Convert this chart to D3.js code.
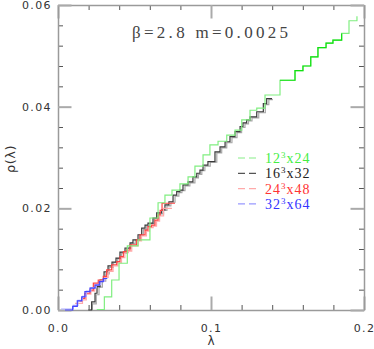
<!DOCTYPE html>
<html>
<head>
<meta charset="utf-8">
<script src="https://cdn.jsdelivr.net/npm/d3@7"></script>
<style>
  body { margin: 0; background: #fff; }
  svg { display: block; }
</style>
</head>
<body>
<svg id="chart" width="374" height="349"></svg>
<script>
// step data: [lambda, rho] where each step starts
const lat12light = [[0.0253,0.0001],[0.0303,0.0026],[0.0351,0.0059],[0.0399,0.0092],[0.0453,0.0126],[0.0523,0.0138],[0.0601,0.0181],[0.0654,0.0211],[0.0699,0.0226],[0.0745,0.0236],[0.0797,0.0248],[0.0850,0.0262],[0.0895,0.0283],[0.0948,0.0305],[0.0993,0.0325],[0.1046,0.0332],[0.1103,0.0344],[0.1157,0.0354],[0.1201,0.0374],[0.1255,0.0393],[0.1299,0.0397],[0.1353,0.0423],[0.1451,0.0452],[0.1549,0.0471],[0.1601,0.0480],[0.1652,0.0498],[0.1699,0.0516],[0.1752,0.0525],[0.1797,0.0531],[0.1854,0.0544],[0.1902,0.0569],[0.1954,0.0578]];
const lat12dark = [[0.1451,0.0452],[0.1549,0.0471],[0.1601,0.0480],[0.1652,0.0498],[0.1699,0.0516],[0.1752,0.0525],[0.1797,0.0531],[0.1854,0.0544]];
const lat16dark = [[0.0198,0.0000],[0.0220,0.0016],[0.0242,0.0033],[0.0255,0.0046],[0.0275,0.0059],[0.0301,0.0075],[0.0327,0.0087],[0.0353,0.0094],[0.0379,0.0102],[0.0405,0.0114],[0.0438,0.0122],[0.0471,0.0132],[0.0490,0.0138],[0.0523,0.0148],[0.0547,0.0161],[0.0569,0.0167],[0.0588,0.0171],[0.0621,0.0181],[0.0645,0.0191],[0.0678,0.0197],[0.0699,0.0207],[0.0725,0.0213],[0.0752,0.0226],[0.0776,0.0233],[0.0797,0.0236],[0.0817,0.0246],[0.0850,0.0252],[0.0882,0.0262],[0.0907,0.0269],[0.0928,0.0275],[0.0948,0.0285],[0.0980,0.0292],[0.1026,0.0311],[0.1059,0.0321],[0.1092,0.0331],[0.1124,0.0341],[0.1157,0.0351],[0.1190,0.0361],[0.1209,0.0368],[0.1233,0.0374],[0.1255,0.0380],[0.1299,0.0390],[0.1342,0.0406],[0.1364,0.0416],[0.1399,0.0416]];
const lat16light = [[0.0198,0.0000],[0.0225,0.0012],[0.0250,0.0030],[0.0268,0.0045],[0.0290,0.0057],[0.0312,0.0071],[0.0335,0.0084],[0.0362,0.0093],[0.0390,0.0101],[0.0415,0.0112],[0.0448,0.0121],[0.0480,0.0131],[0.0505,0.0137],[0.0535,0.0147],[0.0558,0.0158],[0.0580,0.0165],[0.0600,0.0170],[0.0630,0.0180],[0.0655,0.0189],[0.0690,0.0196],[0.0712,0.0205],[0.0738,0.0212],[0.0765,0.0224],[0.0790,0.0231],[0.0810,0.0235],[0.0830,0.0244],[0.0862,0.0250],[0.0895,0.0260],[0.0918,0.0267],[0.0940,0.0274],[0.0960,0.0283],[0.0995,0.0291],[0.1038,0.0309],[0.1070,0.0319],[0.1103,0.0329],[0.1137,0.0339],[0.1170,0.0349],[0.1200,0.0359],[0.1222,0.0366],[0.1245,0.0372],[0.1268,0.0378],[0.1312,0.0388],[0.1355,0.0404],[0.1378,0.0414],[0.1405,0.0414]];
const lat24dark = [[0.0140,0.0018],[0.0155,0.0023],[0.0176,0.0033],[0.0209,0.0039],[0.0231,0.0053],[0.0263,0.0059],[0.0296,0.0066],[0.0318,0.0079],[0.0351,0.0089],[0.0384,0.0095],[0.0405,0.0105],[0.0427,0.0115],[0.0449,0.0118],[0.0471,0.0128],[0.0514,0.0138],[0.0536,0.0148],[0.0569,0.0157],[0.0588,0.0164],[0.0612,0.0167],[0.0634,0.0177],[0.0654,0.0187],[0.0668,0.0196],[0.0680,0.0210],[0.0765,0.0210]];
const lat24light = [[0.0111,0.0013],[0.0160,0.0020],[0.0185,0.0031],[0.0215,0.0037],[0.0240,0.0050],[0.0272,0.0057],[0.0305,0.0064],[0.0328,0.0076],[0.0360,0.0087],[0.0392,0.0093],[0.0415,0.0103],[0.0437,0.0113],[0.0460,0.0116],[0.0482,0.0126],[0.0524,0.0136],[0.0546,0.0146],[0.0578,0.0155],[0.0598,0.0162],[0.0622,0.0165],[0.0644,0.0175],[0.0664,0.0185],[0.0690,0.0200],[0.0745,0.0200]];
const lat32dark = [[0.0046,0.0000],[0.0096,0.0007],[0.0126,0.0018],[0.0155,0.0026],[0.0176,0.0036],[0.0209,0.0043],[0.0242,0.0049],[0.0270,0.0056],[0.0296,0.0062],[0.0322,0.0062]];
const lat32light = [[0.0020,0.0002],[0.0070,0.0002],[0.0100,0.0009],[0.0130,0.0019],[0.0160,0.0027],[0.0185,0.0037],[0.0215,0.0044],[0.0250,0.0050],[0.0280,0.0057],[0.0305,0.0063]];

const legendNames = [["12","x24"],["16","x32"],["24","x48"],["32","x64"]];
const xMajor = [0, 0.1, 0.2];
const xMinor = [0.02,0.04,0.06,0.08,0.12,0.14,0.16,0.18];
const yMajor = [0, 0.02, 0.04, 0.06];
const yMinor = [0.004,0.008,0.012,0.016,0.024,0.028,0.032,0.036,0.044,0.048,0.052,0.056];

width = 374;
height = 349;
margin = ({top: 5, right: 10, bottom: 39, left: 58});

const svg = d3.select("#chart");

x = d3.scaleLinear().domain([0, 0.2]).range([margin.left, width - margin.right]);
y = d3.scaleLinear().domain([0, 0.06]).range([height - margin.bottom, margin.top]);

const frameColor = "#9a9a9a";
const majLen = 13.5, minLen = 5;

// minor ticks on all four sides
function minorAxis(axis, pos){
    svg.append("g").attr("transform", pos)
        .call(axis.tickSize(-minLen).tickSizeOuter(0).tickFormat(""))
        .call(g => g.select(".domain").remove())
        .call(g => g.selectAll(".tick line").attr("stroke", "#555").attr("stroke-width", 1));
}
minorAxis(d3.axisBottom(x).tickValues(xMinor), `translate(0,${y(0)})`);
minorAxis(d3.axisTop(x).tickValues(xMinor), `translate(0,${y(0.06)})`);
minorAxis(d3.axisLeft(y).tickValues(yMinor), `translate(${x(0)},0)`);
minorAxis(d3.axisRight(y).tickValues(yMinor), `translate(${x(0.2)},0)`);

// major ticks + labels
function majorAxis(axis, pos, fmt, pad){
    return svg.append("g").attr("transform", pos)
        .call(axis.tickSize(-majLen).tickSizeOuter(0).tickPadding(pad).tickFormat(fmt))
        .call(g => g.select(".domain").attr("stroke", frameColor).attr("stroke-width", 1.5))
        .call(g => g.selectAll(".tick line").attr("stroke", "#aaa").attr("stroke-width", 2))
        .call(g => g.selectAll("text")
            .attr("fill", "#333")
            .style("font-family", "DejaVu Sans")
            .style("font-size", "11px")
            .style("letter-spacing", "1.4px"));
}
majorAxis(d3.axisBottom(x).tickValues(xMajor), `translate(0,${y(0)})`, d3.format(".1f"), 14);
majorAxis(d3.axisTop(x).tickValues(xMajor), `translate(0,${y(0.06)})`, "", 0);
majorAxis(d3.axisLeft(y).tickValues(yMajor), `translate(${x(0)},0)`, d3.format(".2f"), 6);
majorAxis(d3.axisRight(y).tickValues(yMajor), `translate(${x(0.2)},0)`, "", 0);

// step curves
const stepLine = d3.line()
    .x(d => x(d[0]))
    .y(d => y(d[1]))
    .curve(d3.curveStepAfter);

const curves = [
    {data: lat16light, color: "#a8a8a8"},
    {data: lat16dark,  color: "#3a3a3a"},
    {data: lat24light, color: "#ffaaaa"},
    {data: lat24dark,  color: "#ff4444"},
    {data: lat32light, color: "#aaaaff"},
    {data: lat32dark,  color: "#4444ff"},
    {data: lat12light, color: "#80ee80"},
    {data: lat12dark,  color: "#11e011"}
];

svg.append("g")
    .attr("fill", "none")
    .attr("stroke-width", 1.2)
  .selectAll("path")
  .data(curves)
  .join("path")
    .attr("stroke", d => d.color)
    .attr("d", d => stepLine(d.data));

// title
svg.append("text")
    .attr("x", 132).attr("y", 38)
    .attr("fill", "#444")
    .attr("textLength", 156)
    .attr("lengthAdjust", "spacing")
    .style("font-family", "Liberation Serif")
    .style("font-size", "17px")
    .text("β=2.8  m=0.0025");

// axis labels
svg.append("text")
    .attr("x", x(0.1)).attr("y", 345)
    .attr("text-anchor", "middle")
    .attr("fill", "#333")
    .style("font-family", "DejaVu Sans")
    .style("font-size", "12px")
    .text("λ");

svg.append("text")
    .attr("transform", "translate(15,159) rotate(-90)")
    .attr("text-anchor", "middle")
    .attr("fill", "#333")
    .style("font-family", "DejaVu Sans")
    .style("font-size", "13px")
    .style("letter-spacing", "0.5px")
    .text("ρ(λ)");

// legend
const dashColors = ["#88ee88", "#555555", "#ffaaaa", "#9999ff"];
const textColors = ["#44ee44", "#222222", "#ff3333", "#3333ff"];
const leg = svg.append("g");
legendNames.forEach((name, i) => {
    const yy = 158 + i * 15.3;
    leg.append("line")
        .attr("x1", 238).attr("x2", 257)
        .attr("y1", yy).attr("y2", yy)
        .attr("stroke", dashColors[i])
        .attr("stroke-width", 1.2)
        .attr("stroke-dasharray", "7,4");
    const t = leg.append("text")
        .attr("x", 265).attr("y", yy + 5)
        .attr("fill", textColors[i])
        .style("font-family", "Liberation Serif")
        .style("font-size", "14px")
        .style("letter-spacing", "1px");
    t.append("tspan").text(name[0]);
    t.append("tspan").attr("dy", -5).style("font-size", "9px").text("3");
    t.append("tspan").attr("dy", 5).text(name[1]);
});
</script>
</body>
</html>
